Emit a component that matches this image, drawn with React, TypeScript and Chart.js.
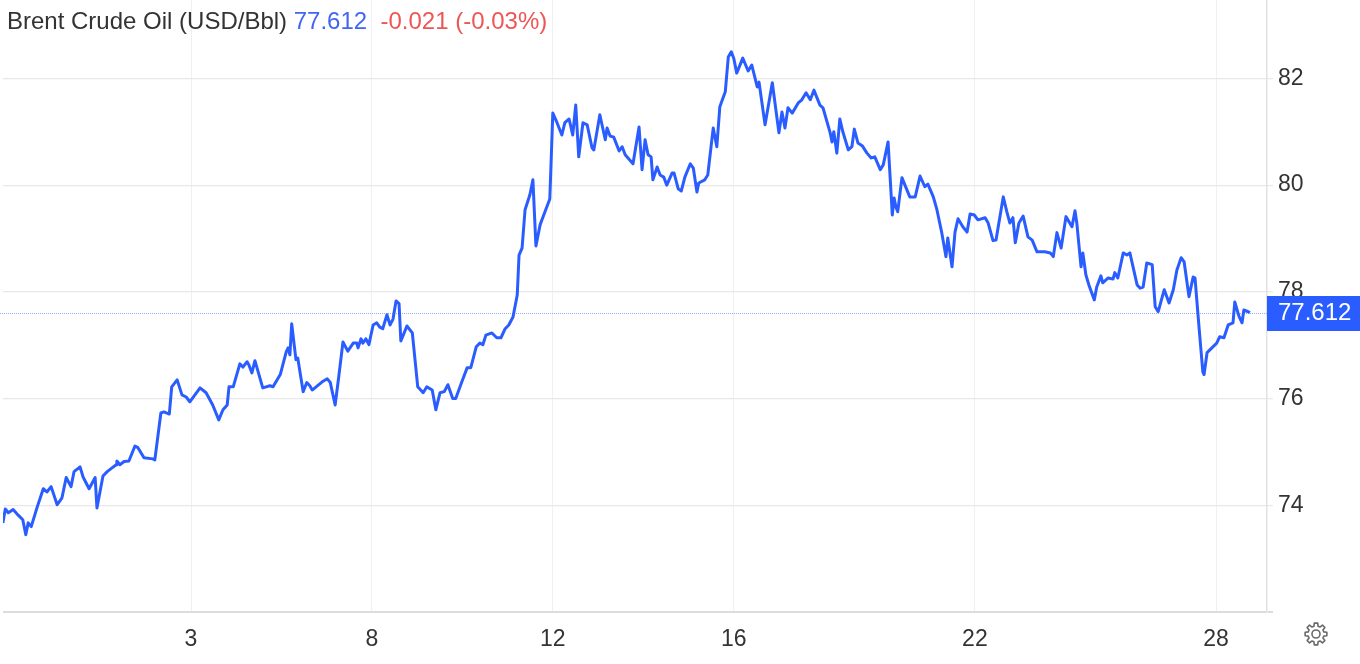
import React, { useEffect, useRef } from 'react';
import { Chart, registerables } from 'chart.js';

Chart.register(...registerables);

const titleText = 'Brent Crude Oil (USD/Bbl)';
const lastPrice = 77.612;
const priceChange = -0.021;
const pctChange = -0.03;

const tickPositions = [3, 6, 9, 12, 16, 20];
const tickLabels = ['3', '8', '12', '16', '22', '28'];
const yTicks = [72, 74, 76, 78, 80, 82];

const sessionTime = [
  -0.12, -0.08, -0.03, 0.05, 0.13, 0.21, 0.26, 0.30, 0.35, 0.45,
  0.55, 0.61, 0.68, 0.78, 0.86, 0.93, 1.01, 1.06, 1.16, 1.21,
  1.31, 1.41, 1.44, 1.54, 1.61, 1.69, 1.76, 1.77, 1.82, 1.89,
  1.97, 2.07, 2.12, 2.22, 2.37, 2.40, 2.50, 2.55, 2.64, 2.68,
  2.77, 2.85, 2.92, 2.98, 3.15, 3.25, 3.36, 3.46, 3.53, 3.60,
  3.63, 3.70, 3.81, 3.86, 3.93, 3.96, 4.01, 4.06, 4.19, 4.31,
  4.36, 4.48, 4.58, 4.61, 4.64, 4.67, 4.74, 4.77, 4.86, 4.92,
  4.97, 5.01, 5.17, 5.26, 5.31, 5.39, 5.45, 5.52, 5.60, 5.69,
  5.75, 5.77, 5.82, 5.85, 5.90, 5.95, 6.02, 6.08, 6.13, 6.18,
  6.25, 6.30, 6.35, 6.40, 6.45, 6.48, 6.52, 6.58, 6.67, 6.76,
  6.85, 6.91, 7.00, 7.06, 7.13, 7.20, 7.26, 7.34, 7.39, 7.49,
  7.58, 7.64, 7.73, 7.79, 7.84, 7.89, 7.99, 8.07, 8.14, 8.21,
  8.27, 8.34, 8.41, 8.44, 8.49, 8.54, 8.62, 8.67, 8.72, 8.79,
  8.87, 8.95, 9.00, 9.07, 9.15, 9.20, 9.27, 9.33, 9.38, 9.43,
  9.50, 9.57, 9.65, 9.68, 9.78, 9.87, 9.90, 9.95, 10.01, 10.10,
  10.15, 10.20, 10.33, 10.43, 10.48, 10.53, 10.58, 10.63, 10.66, 10.73,
  10.78, 10.84, 10.89, 10.98, 11.01, 11.08, 11.13, 11.19, 11.28, 11.33,
  11.39, 11.42, 11.52, 11.57, 11.66, 11.72, 11.77, 11.86, 11.91, 11.96,
  12.00, 12.05, 12.15, 12.24, 12.30, 12.39, 12.42, 12.52, 12.64, 12.75,
  12.80, 12.85, 12.90, 12.97, 13.07, 13.13, 13.20, 13.27, 13.33, 13.43,
  13.48, 13.60, 13.63, 13.66, 13.71, 13.76, 13.81, 13.90, 13.96, 14.00,
  14.06, 14.13, 14.21, 14.28, 14.34, 14.43, 14.48, 14.56, 14.63, 14.66,
  14.69, 14.72, 14.79, 14.84, 14.92, 15.01, 15.09, 15.17, 15.22, 15.31,
  15.37, 15.45, 15.52, 15.55, 15.62, 15.67, 15.72, 15.80, 15.87, 15.92,
  15.99, 16.05, 16.17, 16.22, 16.30, 16.35, 16.47, 16.53, 16.58, 16.63,
  16.67, 16.73, 16.80, 16.88, 16.95, 17.03, 17.08, 17.16, 17.25, 17.30,
  17.36, 17.43, 17.51, 17.61, 17.66, 17.69, 17.76, 17.79, 17.84, 17.89,
  17.98, 18.02, 18.09, 18.12, 18.21, 18.29, 18.32, 18.37, 18.46, 18.52,
  18.57, 18.69, 18.74, 18.79, 18.85, 18.94, 18.99, 19.04, 19.14, 19.22,
  19.29, 19.35, 19.42, 19.47, 19.55, 19.62, 19.65, 19.72, 19.78, 19.80,
  19.85, 19.93, 20.01, 20.06, 20.13, 20.20, 20.28, 20.31, 20.38, 20.43,
  20.46, 20.51, 20.56,
];

const prices = [
  73.67, 73.93, 73.86, 73.92, 73.82, 73.73, 73.45, 73.67, 73.60, 73.97,
  74.31, 74.25, 74.35, 74.01, 74.14, 74.52, 74.35, 74.63, 74.72, 74.53,
  74.31, 74.52, 73.95, 74.55, 74.63, 74.70, 74.76, 74.83, 74.76, 74.82,
  74.83, 75.11, 75.08, 74.89, 74.87, 74.85, 75.73, 75.75, 75.71, 76.22,
  76.35, 76.07, 76.03, 75.94, 76.20, 76.11, 75.88, 75.60, 75.79, 75.88,
  76.22, 76.22, 76.65, 76.59, 76.69, 76.63, 76.48, 76.71, 76.20, 76.24,
  76.22, 76.45, 76.88, 76.95, 76.82, 77.40, 76.73, 76.76, 76.13, 76.30,
  76.24, 76.16, 76.31, 76.37, 76.30, 75.88, 76.41, 77.06, 76.89, 77.04,
  77.04, 76.95, 77.12, 77.04, 77.12, 77.01, 77.38, 77.42, 77.34, 77.31,
  77.57, 77.38, 77.49, 77.83, 77.78, 77.08, 77.19, 77.36, 77.23, 76.22,
  76.11, 76.22, 76.16, 75.79, 76.11, 76.13, 76.26, 76.00, 76.00, 76.31,
  76.58, 76.58, 76.97, 77.04, 77.01, 77.19, 77.23, 77.14, 77.14, 77.31,
  77.38, 77.53, 77.94, 78.69, 78.82, 79.54, 79.82, 80.10, 78.86, 79.26,
  79.50, 79.74, 81.35, 81.17, 80.94, 81.17, 81.24, 80.94, 81.50, 80.53,
  81.17, 81.13, 80.70, 80.66, 81.32, 80.85, 81.07, 80.92, 80.90, 80.64,
  80.72, 80.57, 80.40, 81.09, 80.29, 80.85, 80.57, 80.53, 80.10, 80.34,
  80.19, 80.15, 80.00, 80.23, 80.23, 79.93, 79.89, 80.15, 80.40, 80.32,
  79.87, 80.04, 80.10, 80.19, 81.07, 80.72, 81.47, 81.75, 82.40, 82.50,
  82.38, 82.10, 82.38, 82.14, 82.25, 81.84, 81.93, 81.13, 81.92, 80.98,
  81.37, 81.07, 81.45, 81.35, 81.54, 81.60, 81.73, 81.60, 81.78, 81.50,
  81.45, 80.98, 80.81, 81.00, 80.60, 81.24, 81.00, 80.66, 80.72, 81.05,
  80.79, 80.74, 80.60, 80.51, 80.53, 80.29, 80.38, 80.81, 79.44, 79.76,
  79.59, 79.50, 80.14, 80.00, 79.78, 79.78, 80.17, 79.97, 80.02, 79.78,
  79.54, 79.11, 78.66, 79.01, 78.47, 79.12, 79.37, 79.22, 79.12, 79.46,
  79.44, 79.35, 79.39, 79.29, 78.96, 78.97, 79.78, 79.50, 79.29, 79.39,
  78.92, 79.29, 79.42, 79.03, 78.97, 78.75, 78.75, 78.75, 78.73, 78.66,
  79.11, 78.82, 79.41, 79.22, 79.52, 79.29, 78.47, 78.73, 78.32, 78.13,
  77.85, 78.09, 78.30, 78.17, 78.26, 78.24, 78.36, 78.26, 78.73, 78.69,
  78.73, 78.13, 78.07, 78.09, 78.54, 78.51, 77.72, 77.63, 78.04, 77.79,
  78.04, 78.41, 78.64, 78.56, 77.91, 78.28, 78.26, 77.29, 76.50, 76.45,
  76.86, 76.95, 77.04, 77.16, 77.14, 77.38, 77.42, 77.81, 77.54, 77.42,
  77.66, 77.64, 77.61,
];

const FONT = '"Liberation Sans", Arial, sans-serif';
const LINE_BLUE = '#2a5dff';

function drawGear(ctx: CanvasRenderingContext2D, cx: number, cy: number) {
  const teeth = 8;
  const rOut = 11;
  const rIn = 8;
  const step = (Math.PI * 2) / teeth;
  ctx.save();
  ctx.strokeStyle = '#6b6b6b';
  ctx.lineWidth = 1.6;
  ctx.lineJoin = 'round';
  ctx.beginPath();
  for (let k = 0; k < teeth; k++) {
    const a = k * step;
    const pts = [
      [rIn, a - step * 0.34],
      [rOut, a - step * 0.2],
      [rOut, a + step * 0.2],
      [rIn, a + step * 0.34],
    ];
    pts.forEach(([r, ang], i) => {
      const px = cx + r * Math.cos(ang);
      const py = cy + r * Math.sin(ang);
      if (k === 0 && i === 0) ctx.moveTo(px, py);
      else ctx.lineTo(px, py);
    });
  }
  ctx.closePath();
  ctx.stroke();
  ctx.beginPath();
  ctx.arc(cx, cy, 4, 0, Math.PI * 2);
  ctx.stroke();
  ctx.restore();
}

const overlayPlugin = {
  id: 'overlay',
  beforeDatasetsDraw(chart: any) {
    const { ctx, chartArea, scales } = chart;
    const y = Math.round(scales.y.getPixelForValue(lastPrice)) + 0.5;
    ctx.save();
    ctx.strokeStyle = '#93aaff';
    ctx.lineWidth = 1;
    ctx.setLineDash([1, 1]);
    ctx.beginPath();
    ctx.moveTo(0, y);
    ctx.lineTo(chartArea.right, y);
    ctx.stroke();
    ctx.restore();
  },
  afterDraw(chart: any) {
    const { ctx, chartArea, scales, width } = chart;
    ctx.save();
    // title
    ctx.font = `24px ${FONT}`;
    ctx.textBaseline = 'alphabetic';
    ctx.textAlign = 'left';
    let x = 7;
    const ty = 29;
    ctx.fillStyle = '#333333';
    ctx.fillText(titleText, x, ty);
    x += ctx.measureText(titleText + ' ').width;
    const priceStr = lastPrice.toFixed(3);
    ctx.fillStyle = '#4066f2';
    ctx.fillText(priceStr, x, ty);
    x += ctx.measureText(priceStr + '  ').width;
    const chStr = `${priceChange.toFixed(3)} (${pctChange.toFixed(2)}%)`;
    ctx.fillStyle = '#ee5656';
    ctx.fillText(chStr, x, ty);

    // price box on right axis
    const py = scales.y.getPixelForValue(lastPrice);
    ctx.fillStyle = LINE_BLUE;
    ctx.fillRect(chartArea.right, Math.round(py - 17), width - chartArea.right, 35);
    ctx.fillStyle = '#ffffff';
    ctx.font = `24px ${FONT}`;
    ctx.textBaseline = 'middle';
    ctx.fillText(priceStr, chartArea.right + 11, py + 1);

    // settings gear
    drawGear(ctx, 1316, 634);
    ctx.restore();
  },
};

export default function App() {
  const canvasRef = useRef<HTMLCanvasElement | null>(null);

  useEffect(() => {
    const canvas = canvasRef.current;
    if (!canvas) return;
    const points = sessionTime.map((t, i) => ({ x: t, y: prices[i] }));
    const chart = new Chart(canvas, {
      type: 'line',
      data: {
        datasets: [
          {
            data: points,
            borderColor: LINE_BLUE,
            borderWidth: 3,
            pointRadius: 0,
            tension: 0,
            fill: false,
            borderJoinStyle: 'round',
          } as any,
        ],
      },
      options: {
        animation: false,
        responsive: false,
        devicePixelRatio: 1,
        parsing: false,
        normalized: true,
        layout: { padding: { left: 3, top: 0, right: 0, bottom: 0 } },
        plugins: {
          legend: { display: false },
          title: { display: false },
          tooltip: { enabled: false },
        },
        scales: {
          x: {
            type: 'linear',
            min: -0.118,
            max: 20.844,
            afterBuildTicks: (scale: any) => {
              scale.ticks = tickPositions.map((v) => ({ value: v }));
            },
            afterFit: (scale: any) => {
              scale.height = 52;
              scale.paddingLeft = 0;
              scale.paddingRight = 0;
            },
            ticks: {
              autoSkip: false,
              maxRotation: 0,
              padding: 14,
              color: '#333333',
              font: { family: FONT, size: 23 },
              callback: (v: any) => {
                const i = tickPositions.indexOf(Number(v));
                return i >= 0 ? tickLabels[i] : '';
              },
            },
            grid: {
              color: '#edf1f6',
              lineWidth: 1,
              drawTicks: false,
            },
            border: { display: false },
          },
          y: {
            type: 'linear',
            position: 'right',
            min: 72,
            max: 83.47,
            afterBuildTicks: (scale: any) => {
              scale.ticks = yTicks.map((v) => ({ value: v }));
            },
            afterFit: (scale: any) => {
              scale.width = 93;
              scale.paddingTop = 0;
              scale.paddingBottom = 0;
            },
            ticks: {
              padding: 5,
              color: '#333333',
              font: { family: FONT, size: 23 },
              callback: (v: any) => (Number(v) === 72 ? '' : String(v)),
            },
            grid: {
              color: (c: any) => (c.tick && c.tick.value === 72 ? '#dcdcdc' : '#e8e8e8'),
              lineWidth: (c: any) => (c.tick && c.tick.value === 72 ? 2 : 1.2),
              tickLength: 6,
              drawTicks: true,
            },
            border: { display: true, color: '#e2e2e2', width: 1.5 },
          },
        },
      },
      plugins: [overlayPlugin],
    });
    return () => chart.destroy();
  }, []);

  return (
    <div
      style={{
        position: 'fixed',
        left: 0,
        top: 0,
        width: 1360,
        height: 664,
        background: '#ffffff',
      }}
    >
      <canvas ref={canvasRef} width={1360} height={664} style={{ display: 'block' }} />
    </div>
  );
}
